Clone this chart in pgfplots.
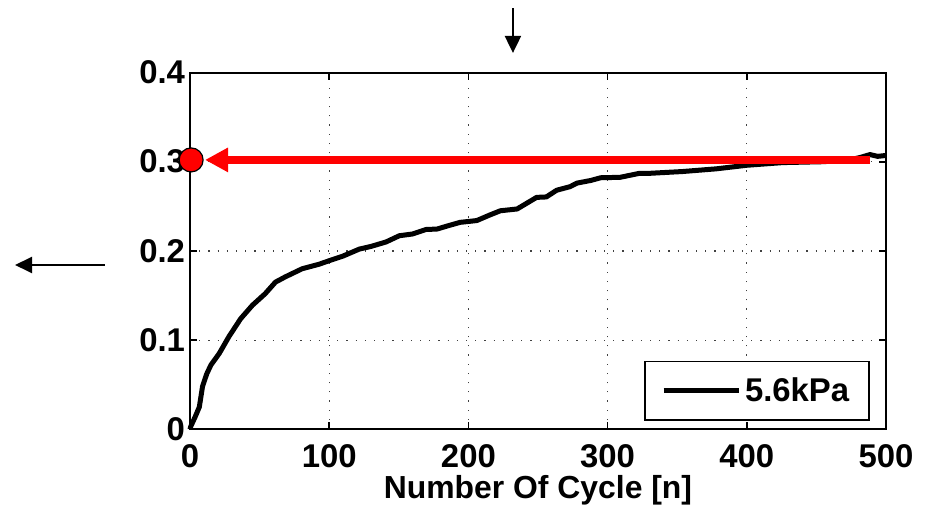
\documentclass[border=0pt]{standalone}
\usepackage{pgfplots}
\pgfplotsset{compat=1.18}
\usepackage{fontspec}
\setmainfont{Liberation Sans}
\usetikzlibrary{arrows.meta}
\begin{document}
\begin{tikzpicture}
\path (-95bp,-40.35bp) rectangle (370bp,214.65bp);
\begin{axis}[
  scale only axis,
  width=348bp, height=178.4bp,
  xmin=0, xmax=500, ymin=0, ymax=0.4,
  xtick={0,100,...,500},
  ytick={0,0.1,0.2,0.3,0.4},
  yticklabels={0,0.1,0.2,0.3,0.4},
  /pgf/number format/assume math mode=true,
  tick label style={font=\fontsize{16.5}{19}\selectfont\bfseries},
  xticklabel style={yshift=-4bp},
  yticklabel style={xshift=1bp},
  label style={font=\fontsize{16}{19}\selectfont\bfseries},
  xlabel={Number Of Cycle [n]},
  xlabel style={yshift=3bp},
  tick align=inside,
  tick pos=both,
  major tick length=3.5bp,
  axis line style={line width=1bp},
  every tick/.style={black, line width=0.8bp},
  grid=major,
  major grid style={black!75, line width=0.6bp, dash pattern=on 0.6bp off 4bp},
  clip=false,
  legend style={at={(0.977,0.023)}, anchor=south east, draw=black, line width=0.8bp,
    font=\fontsize{16.5}{19}\selectfont\bfseries, inner xsep=8bp, inner ysep=6bp},
  legend cell align=left,
  legend image code/.code={\draw[#1, line width=2.5bp] (0bp,0bp) -- (37.5bp,0bp);},
]
\addplot[black, line width=2.5bp, line join=round] coordinates {
(0,0) (0.5,0.003) (4,0.015) (6.7,0.025) (9,0.048) (12,0.062) (15,0.072) (21,0.085)
(28,0.104) (36.4,0.124) (44.8,0.139) (54,0.152) (61.4,0.165) (68.6,0.171)
(80.6,0.180) (92.6,0.185) (100,0.189) (109.6,0.194) (121.6,0.202) (130,0.205)
(140.8,0.210) (150.4,0.217) (160,0.219) (169.6,0.224) (177.5,0.2245)
(185,0.228) (194,0.232) (206,0.234) (215,0.240) (223,0.245) (235,0.247)
(249,0.260) (256,0.2605) (263.4,0.268) (273,0.272) (278,0.276) (288,0.279)
(295,0.282) (309,0.2825) (323,0.287) (330.5,0.287) (354,0.289) (378,0.292)
(400,0.296) (426,0.299) (455,0.300) (474,0.302) (482,0.305) (488.5,0.308)
(494,0.306) (500,0.307)
};
\addlegendentry{5.6kPa}
\addplot[red, line width=4bp, -{Triangle[length=11.5bp,width=11.5bp]}, forget plot]
  coordinates {(488.5,0.302) (10.8,0.302)};
\addplot[only marks, mark=*, mark size=6bp, mark options={fill=red, draw=black, line width=0.6bp}, forget plot]
  coordinates {(0.8,0.302)};
\draw[black, line width=1bp, -{Triangle[length=8.5bp,width=8bp]}]
  (axis cs:232,0.4723) -- (axis cs:232,0.4219);
\draw[black, line width=1bp, -{Triangle[length=8.5bp,width=8bp]}]
  (axis cs:-61.1,0.1842) -- (axis cs:-125.7,0.1842);
\end{axis}
\end{tikzpicture}
\end{document}
